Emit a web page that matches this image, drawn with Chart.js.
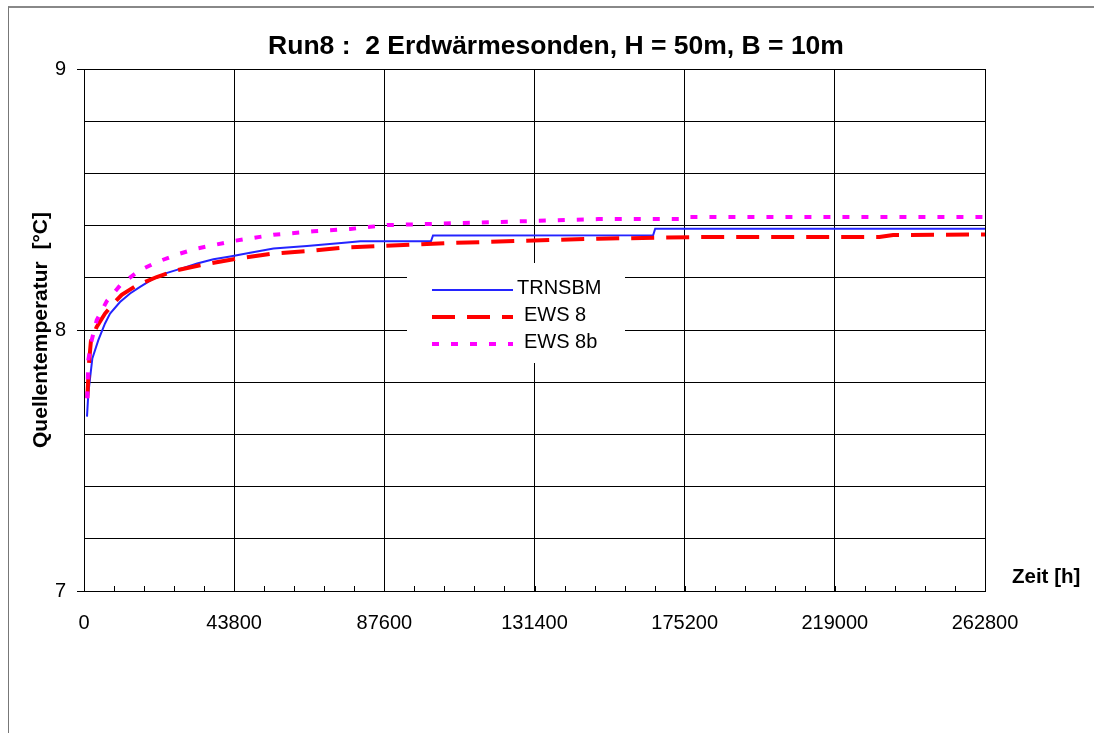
<!DOCTYPE html>
<html lang="de">
<head>
    <meta charset="UTF-8">
    <title>Run8 Erdwärmesonden</title>
    <script src="https://cdn.jsdelivr.net/npm/chart.js"></script>
    <style>
        body {
            margin: 0;
            background: #fff;
            font-family: "Liberation Sans", Arial, sans-serif;
        }
        #wrap {
            position: relative;
            width: 1094px;
            height: 733px;
        }
        #frame {
            position: absolute;
            left: 8px;
            top: 6px;
            width: 1100px;
            height: 740px;
            border-left: 1px solid #777;
            border-top: 2px solid #888;
        }
    </style>
</head>
<body>
<div id="wrap">
    <div id="frame"></div>
    <canvas id="chart"></canvas>
</div>
<script>
    // values (Zeit in h, Temperatur in °C)
    const trnsbmX = [876, 1260, 2430, 4180, 6130, 7600, 10500, 13430, 16350, 20240, 24000, 29000, 33000, 37760, 42630, 48470, 55280, 65030, 76710, 80600, 101200, 101800, 166000, 166600, 262800];
    const trnsbmY = [7.668, 7.757, 7.891, 7.961, 8.025, 8.063, 8.107, 8.140, 8.165, 8.197, 8.218, 8.238, 8.255, 8.271, 8.282, 8.296, 8.312, 8.322, 8.335, 8.340, 8.340, 8.362, 8.363, 8.388, 8.388];

    const ews8X = [960, 1500, 2040, 3700, 6130, 8500, 11000, 15380, 21220, 27060, 33870, 43600, 55280, 65030, 75720, 86430, 105900, 150000, 180000, 232000, 236000, 262800];
    const ews8Y = [7.740, 7.880, 7.961, 8.012, 8.063, 8.100, 8.135, 8.171, 8.203, 8.229, 8.248, 8.271, 8.293, 8.302, 8.316, 8.322, 8.333, 8.350, 8.356, 8.356, 8.364, 8.366];

    const ews8bX = [960, 1260, 2250, 3700, 6620, 11000, 16350, 21220, 27060, 32900, 43600, 55280, 66950, 77670, 88380, 100100, 150000, 174000, 175800, 262800];
    const ews8bY = [7.738, 7.885, 7.961, 8.037, 8.110, 8.178, 8.229, 8.260, 8.289, 8.312, 8.341, 8.365, 8.378, 8.387, 8.402, 8.406, 8.425, 8.425, 8.433, 8.433];

    const seriesNames = ['TRNSBM', 'EWS 8', 'EWS 8b'];
    const xMajorStep = 43800;
    const xMinorStep = 8760;

    const pts = (xs, ys) => xs.map((x, i) => ({ x: x, y: ys[i] }));
    const isInt = v => Math.abs(v - Math.round(v)) < 1e-6;

    const FONT = '"Liberation Sans", Arial, sans-serif';

    // texts, inner x ticks and the legend box in the middle of the plot
    const extras = {
        id: 'extras',
        beforeDatasetsDraw(chart) {
            const c = chart.ctx;
            const xs = chart.scales.x;
            const area = chart.chartArea;
            c.save();
            // small ticks pointing into the plot
            c.strokeStyle = '#000';
            c.lineWidth = 1;
            for (let v = 0; v <= 262800; v += xMinorStep) {
                const px = Math.round(xs.getPixelForValue(v)) + 0.5;
                c.beginPath();
                c.moveTo(px, area.bottom);
                c.lineTo(px, area.bottom - 5);
                c.stroke();
            }
            // white legend box hides the grid behind it
            c.fillStyle = '#fff';
            c.fillRect(407, 263, 218, 100);
            c.restore();
        },
        afterDraw(chart) {
            const c = chart.ctx;
            c.save();
            c.fillStyle = '#000';
            c.textBaseline = 'middle';

            c.font = 'bold 26.5px ' + FONT;
            c.textAlign = 'center';
            c.fillText('Run8 :  2 Erdwärmesonden, H = 50m, B = 10m', 556, 47);

            c.font = 'bold 20.5px ' + FONT;
            c.textAlign = 'left';
            c.fillText('Zeit [h]', 1012, 577);

            c.font = 'bold 21px ' + FONT;
            c.save();
            c.translate(41, 330);
            c.rotate(-Math.PI / 2);
            c.textAlign = 'center';
            c.fillText('Quellentemperatur  [°C]', 0, 0);
            c.restore();

            // legend
            const rows = [
                { y: 290, txtX: 517, ds: chart.data.datasets[0] },
                { y: 317, txtX: 524, ds: chart.data.datasets[1] },
                { y: 344, txtX: 524, ds: chart.data.datasets[2] }
            ];
            c.font = '20px ' + FONT;
            rows.forEach((r, i) => {
                c.strokeStyle = r.ds.borderColor;
                c.lineWidth = r.ds.borderWidth;
                c.setLineDash(r.ds.borderDash || []);
                c.beginPath();
                c.moveTo(432, r.y);
                c.lineTo(513, r.y);
                c.stroke();
                c.setLineDash([]);
                c.fillStyle = '#000';
                c.fillText(seriesNames[i], r.txtX, r.y - 2);
            });
            c.restore();
        }
    };

    const ctx = document.getElementById('chart').getContext('2d');
    new Chart(ctx, {
        type: 'line',
        data: {
            datasets: [
                {
                    label: seriesNames[0],
                    data: pts(trnsbmX, trnsbmY),
                    borderColor: '#2424ff',
                    borderWidth: 2,
                    order: 3
                },
                {
                    label: seriesNames[1],
                    data: pts(ews8X, ews8Y),
                    borderColor: '#ff0000',
                    borderWidth: 4,
                    borderDash: [23, 12],
                    order: 2
                },
                {
                    label: seriesNames[2],
                    data: pts(ews8bX, ews8bY),
                    borderColor: '#ff00ff',
                    borderWidth: 4,
                    borderDash: [7, 12],
                    order: 1
                }
            ]
        },
        options: {
            responsive: true,
            maintainAspectRatio: false,
            animation: false,
            layout: { padding: { left: 0, top: 69, right: 109, bottom: 0 } },
            elements: {
                point: { radius: 0 },
                line: { tension: 0, borderCapStyle: 'butt' }
            },
            plugins: {
                legend: { display: false },
                title: { display: false },
                tooltip: { enabled: false }
            },
            scales: {
                x: {
                    type: 'linear',
                    min: 0,
                    max: 262800,
                    afterFit: s => { s.height = 142; },
                    border: { display: true, color: '#000', width: 1 },
                    grid: {
                        drawTicks: false,
                        color: c => (c.tick && c.tick.value % xMajorStep === 0) ? '#000' : 'rgba(0,0,0,0)',
                        lineWidth: 1
                    },
                    ticks: {
                        stepSize: xMinorStep,
                        autoSkip: false,
                        maxRotation: 0,
                        padding: 20,
                        color: '#000',
                        font: { family: FONT, size: 20 },
                        callback: v => (v % xMajorStep === 0 ? String(v) : '')
                    }
                },
                y: {
                    min: 7,
                    max: 9,
                    afterFit: s => { s.width = 84; },
                    border: { display: true, color: '#000', width: 1 },
                    grid: {
                        color: '#000',
                        lineWidth: 1,
                        tickLength: 7,
                        tickColor: c => (c.tick && isInt(c.tick.value)) ? '#000' : 'rgba(0,0,0,0)'
                    },
                    ticks: {
                        stepSize: 0.2,
                        autoSkip: false,
                        padding: 11,
                        color: '#000',
                        font: { family: FONT, size: 20 },
                        callback: v => (isInt(v) ? String(Math.round(v)) : '')
                    }
                }
            }
        },
        plugins: [extras]
    });
</script>
</body>
</html>
